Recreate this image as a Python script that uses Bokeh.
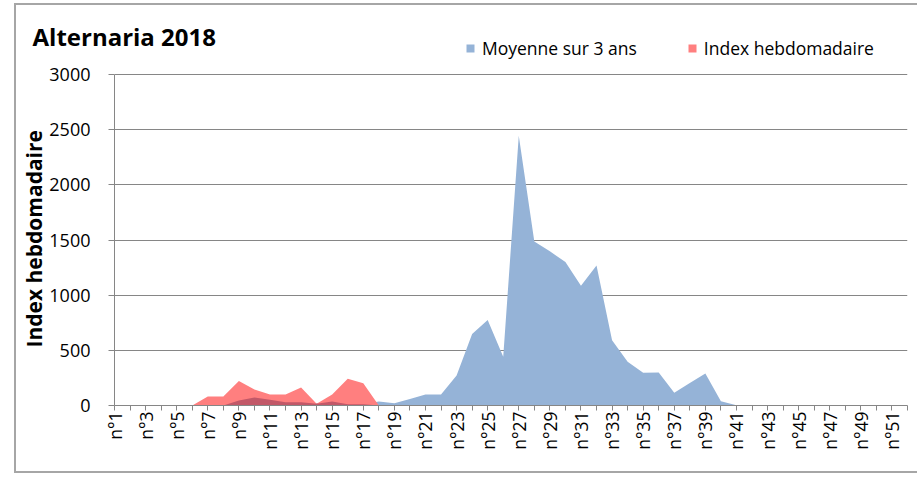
import numpy as np
from bokeh.plotting import figure
from bokeh.models import Range1d, FixedTicker, Legend, LegendItem, Title
from bokeh.embed import file_html
from bokeh.resources import INLINE

weeks = list(range(1, 53))
week_labels = {w: (f"n°{w}" if w % 2 == 1 else "") for w in weeks}

# Moyenne sur 3 ans (weeks 1..52)
moyenne = [0, 0, 0, 0, 0, 0, 0, 0, 45, 72,
           51, 30, 30, 21, 36, 12, 12, 36, 21, 60,
           100, 100, 272, 647, 774, 441, 2445, 1487, 1397, 1300,
           1085, 1270, 592, 396, 296, 299, 115, 203, 290, 39,
           3, 0, 0, 0, 0, 0, 0, 0, 0, 0,
           0, 0]
# Index hebdomadaire 2018
index_hebdo = [0, 0, 0, 0, 0, 0, 82, 82, 223, 145,
               100, 100, 163, 15, 100, 242, 202, 0, 0, 0,
               0, 0, 0, 0, 0, 0, 0, 0, 0, 0,
               0, 0, 0, 0, 0, 0, 0, 0, 0, 0,
               0, 0, 0, 0, 0, 0, 0, 0, 0, 0,
               0, 0]
y_ticks = [0, 500, 1000, 1500, 2000, 2500, 3000]
Y_MAX = 3000

BLUE = "#95B3D7"
RED = "#FF7F7F"
OVERLAP = "#C25868"
GRID = "#868686"
FONT = "Open Sans"

# frame extends above the 3000 line to leave room for the legend row
FRAME_H = 371
AXIS_H = 331
y_top = Y_MAX * FRAME_H / AXIS_H

p = figure(frame_width=793, frame_height=FRAME_H, output_backend="svg", toolbar_location=None,
           x_range=Range1d(1, 52), y_range=Range1d(0, y_top),
           min_border_left=98, min_border_right=10, min_border_top=29, min_border_bottom=66,
           title="Alternaria 2018")
p.outline_line_color = None
p.background_fill_color = "white"
p.styles = {"margin-left": "14px", "margin-top": "3px",
            "border-left": "2px solid #A6A6A6", "border-top": "2px solid #A6A6A6",
            "border-bottom": "2px solid #A6A6A6"}

p.title.text_font = FONT
p.title.text_font_style = "bold"
p.title.text_font_size = "24px"
p.title.text_color = "black"
p.title.align = "left"
p.title.offset = -82
p.title.standoff = -36

xs = np.array(weeks)
blue = np.array(moyenne)
red = np.array(index_hebdo)
overlap = np.minimum(blue, red)

r_blue = p.varea(x=xs, y1=0, y2=blue, fill_color=BLUE)
r_red = p.varea(x=xs, y1=0, y2=red, fill_color=RED)
p.varea(x=xs, y1=0, y2=overlap, fill_color=OVERLAP)

legend = Legend(items=[LegendItem(label="Moyenne sur 3 ans", renderers=[r_blue]),
                       LegendItem(label="Index hebdomadaire", renderers=[r_red])],
                orientation="horizontal",
                background_fill_alpha=0, border_line_color=None,
                glyph_width=10, glyph_height=10, label_standoff=7, spacing=50,
                padding=0, margin=0,
                label_text_font=FONT, label_text_font_size="17.5px",
                label_text_color="black")
legend.location = (351, FRAME_H - 26)
p.add_layout(legend, "center")

# axes
p.xaxis.ticker = FixedTicker(ticks=weeks)
p.xaxis.major_label_overrides = week_labels
p.xaxis.major_label_orientation = np.pi / 2
p.xaxis.minor_tick_line_color = None
p.xaxis.major_tick_in = 0
p.xaxis.major_tick_out = 5
p.xaxis.axis_line_color = GRID
p.xaxis.major_tick_line_color = GRID
p.xaxis.major_label_text_font = FONT
p.xaxis.major_label_text_font_size = "17.5px"
p.xaxis.major_label_text_color = "black"
p.xaxis.major_label_standoff = 1

p.yaxis.ticker = FixedTicker(ticks=y_ticks)
p.yaxis.bounds = (0, Y_MAX)
p.yaxis.minor_tick_line_color = None
p.yaxis.major_tick_in = 0
p.yaxis.major_tick_out = 6
p.yaxis.axis_line_color = GRID
p.yaxis.major_tick_line_color = GRID
p.yaxis.major_label_text_font = FONT
p.yaxis.major_label_text_font_size = "18px"
p.yaxis.major_label_text_color = "black"
p.yaxis.major_label_standoff = 18

# y axis title, placed along the 0..3000 part of the axis
ytitle = Title(text="Index hebdomadaire", align="left", offset=58, standoff=-2,
               text_font=FONT, text_font_style="bold", text_font_size="21px",
               text_color="black")
p.add_layout(ytitle, "left")

p.xgrid.grid_line_color = None
p.ygrid.grid_line_color = GRID
p.ygrid.grid_line_width = 1

open("out.html", "w").write(file_html(p, INLINE))
